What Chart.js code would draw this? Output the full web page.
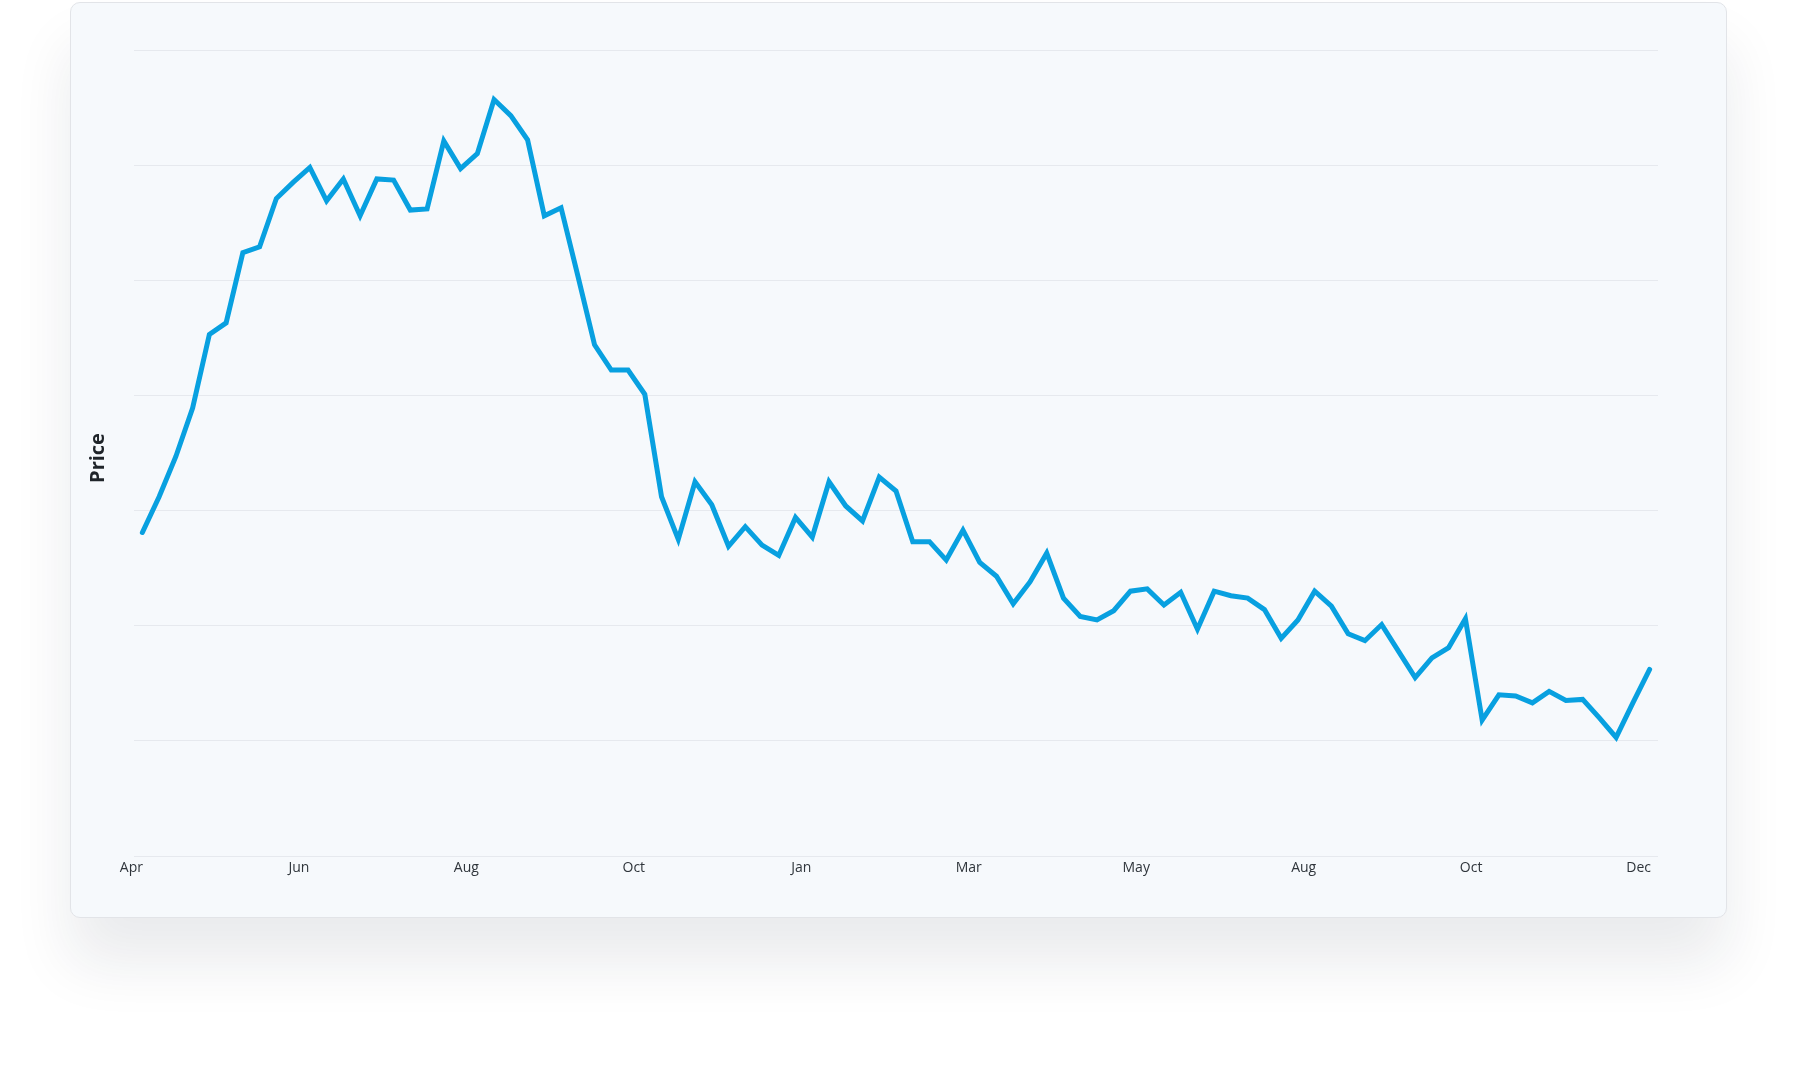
<!DOCTYPE html>
<html>
<head>
<meta charset="utf-8">
<title>Price</title>
<script src="https://cdn.jsdelivr.net/npm/chart.js@4.4.1/dist/chart.umd.min.js"></script>
<style>
  html, body { margin: 0; padding: 0; background: #fff; }
  body { width: 1796px; height: 1066px; position: relative; overflow: hidden; }
  .card {
    position: absolute; left: 70px; top: 2px;
    width: 1655px; height: 914px;
    background: #f6f9fc;
    border: 1px solid #e2e4e8;
    border-radius: 10px;
    box-shadow: 0 45px 60px rgba(20, 30, 50, 0.09);
  }
  .card .wrap { position: relative; width: 1655px; height: 914px; }
</style>
</head>
<body>
<div class="card"><div class="wrap"><canvas id="chart-area"></canvas></div></div>
<script>
// tick labels, one every 10 weeks
var tickLabels = ['Apr', 'Jun', 'Aug', 'Oct', 'Jan', 'Mar', 'May', 'Aug', 'Oct', 'Dec'];

// weekly price
var prices = [
  28.1, 31.2, 34.7, 38.9, 45.3, 46.3, 52.4, 52.9, 57.1, 58.5,
  59.8, 56.9, 58.8, 55.6, 58.8, 58.7, 56.1, 56.2, 62.1, 59.7,
  61.0, 65.7, 64.3, 62.2, 55.6, 56.3, 50.4, 44.4, 42.2, 42.2,
  40.1, 31.2, 27.5, 32.5, 30.5, 26.9, 28.6, 27.0, 26.1, 29.4,
  27.7, 32.5, 30.4, 29.1, 32.9, 31.7, 27.3, 27.3, 25.7, 28.3,
  25.5, 24.3, 21.9, 23.8, 26.3, 22.4, 20.8, 20.5, 21.3, 23.0,
  23.2, 21.8, 22.9, 19.7, 23.0, 22.6, 22.4, 21.4, 18.9, 20.5,
  23.0, 21.7, 19.3, 18.7, 20.1, 17.8, 15.5, 17.2, 18.1, 20.6,
  11.8, 14.0, 13.9, 13.3, 14.3, 13.5, 13.6, 12.0, 10.3, 13.3,
  16.2
];

var weeks = prices.map(function (p, i) {
  return i % 10 === 0 ? tickLabels[i / 10] : '';
});

// y axis title, drawn a little below the middle like the original
var yTitle = {
  id: 'yTitle',
  afterDraw: function (chart) {
    var ctx = chart.ctx;
    var area = chart.chartArea;
    ctx.save();
    ctx.translate(27, (area.top + area.bottom) / 2 + 5);
    ctx.rotate(-Math.PI / 2);
    ctx.font = 'bold 20px "Open Sans"';
    ctx.fillStyle = '#1f2429';
    ctx.textAlign = 'center';
    ctx.textBaseline = 'middle';
    ctx.fillText('Price', 0, 0);
    ctx.restore();
  }
};

var config = {
  type: 'line',
  data: {
    labels: weeks,
    datasets: [{
      label: 'Price',
      data: prices,
      borderColor: 'rgb(8, 160, 224)',
      borderWidth: 5,
      borderCapStyle: 'round',
      borderJoinStyle: 'miter',
      pointRadius: 0,
      tension: 0,
      fill: false
    }]
  },
  options: {
    responsive: true,
    maintainAspectRatio: false,
    animation: false,
    layout: {
      padding: { left: 0, top: 47, right: 68, bottom: 0 }
    },
    plugins: {
      legend: { display: false },
      tooltip: { enabled: false }
    },
    scales: {
      x: {
        offset: true,
        grid: { display: false, drawTicks: false },
        border: { display: false },
        ticks: {
          autoSkip: false,
          maxRotation: 0,
          padding: 4,
          labelOffset: -11,
          color: '#2f353b',
          font: { family: 'Open Sans', size: 14 }
        },
        afterFit: function (scale) { scale.height = 61; }
      },
      y: {
        min: 0,
        max: 70,
        grid: { color: '#e6e9ee', lineWidth: 1, drawTicks: false },
        border: { display: false },
        ticks: { display: false, stepSize: 10 },
        title: { display: false },
        afterFit: function (scale) { scale.width = 63; }
      }
    }
  },
  plugins: [yTitle]
};

window.onload = function () {
  var ctx = document.getElementById('chart-area').getContext('2d');
  window.myLine = new Chart(ctx, config);
};
</script>
</body>
</html>
